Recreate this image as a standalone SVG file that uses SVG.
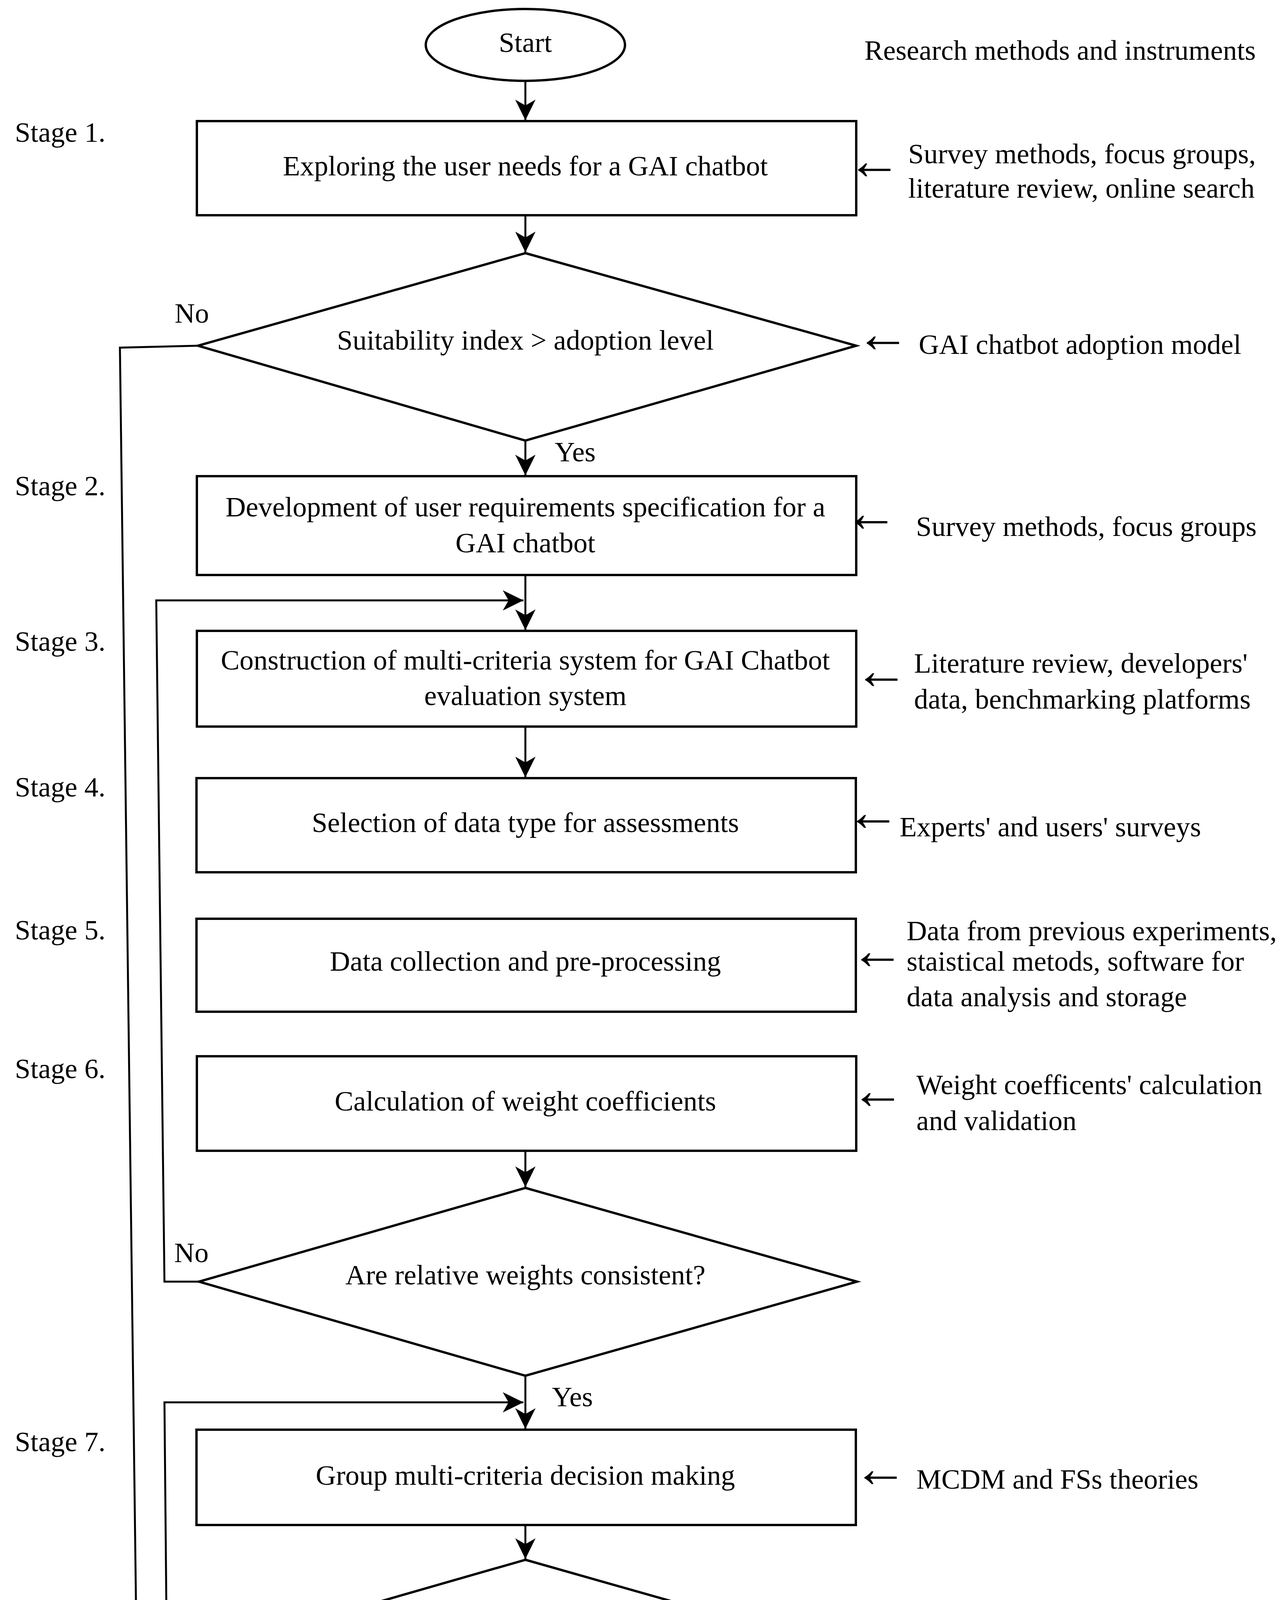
<svg xmlns="http://www.w3.org/2000/svg" width="3282" height="5189" viewBox="0 0 3282 5189">
<style>
text{font-family:"Liberation Serif","Times New Roman",serif;font-size:72px;fill:#000}
.c{text-anchor:middle}
.arr{font-size:140px}
.shape{fill:#fff;stroke:#000;stroke-width:6}
.ln{fill:none;stroke:#000;stroke-width:5}
</style>
<defs>
<marker id="ah" markerUnits="userSpaceOnUse" viewBox="-56 -28 58 56" refX="0" refY="0" markerWidth="58" markerHeight="56" orient="auto">
<path d="M0,0 L-53,-26 L-38,0 L-53,26 Z" fill="#000"/>
</marker>
</defs>
<rect width="3282" height="5189" fill="#fff"/>

<g id="connectors">
<line class="ln" x1="1345" y1="207" x2="1345" y2="308" marker-end="url(#ah)"/>
<line class="ln" x1="1345" y1="551" x2="1345" y2="646" marker-end="url(#ah)"/>
<line class="ln" x1="1345" y1="1128" x2="1345" y2="1217" marker-end="url(#ah)"/>
<line class="ln" x1="1345" y1="1472" x2="1345" y2="1613" marker-end="url(#ah)"/>
<line class="ln" x1="1345" y1="1860" x2="1345" y2="1990" marker-end="url(#ah)"/>
<line class="ln" x1="1345" y1="2946" x2="1345" y2="3039" marker-end="url(#ah)"/>
<line class="ln" x1="1345" y1="3522" x2="1345" y2="3658" marker-end="url(#ah)"/>
<line class="ln" x1="1345" y1="3904" x2="1345" y2="3991" marker-end="url(#ah)"/>
<line class="ln" x1="1345" y1="4474" x2="1345" y2="4570" marker-end="url(#ah)"/>
<line class="ln" x1="1345" y1="4814" x2="1345" y2="4975" marker-end="url(#ah)"/>
<polyline class="ln" points="507,885 307,890 358,4880 1340,4880" marker-end="url(#ah)"/>
<polyline class="ln" points="509,3281 421,3281 400,1537 1340,1537" marker-end="url(#ah)"/>
<polyline class="ln" points="505,4234 427,4234 421,3590 1340,3590" marker-end="url(#ah)"/>
<text x="447" y="826">No</text>
<text x="1420" y="1181">Yes</text>
<text x="446" y="3231">No</text>
<text x="1413" y="3600">Yes</text>
<text x="467" y="4161">No</text>
<text x="1406" y="4535">Yes</text>
</g>

<g id="start">
<ellipse class="shape" cx="1345" cy="115" rx="255" ry="92"/>
<text class="c" x="1345" y="133">Start</text>
</g>
<g id="box1">
<rect class="shape" x="504" y="310" width="1688" height="241"/>
<text class="c" x="1345" y="449">Exploring the user needs for a GAI chatbot</text>
</g>
<g id="dec1">
<polygon class="shape" points="1345,648 2192,885 1345,1128 507,885"/>
<text class="c" x="1345" y="895">Suitability index &gt; adoption level</text>
</g>
<g id="box2">
<rect class="shape" x="504" y="1219" width="1688" height="253"/>
<text class="c" x="1345" y="1322">Development of user requirements specification for a</text>
<text class="c" x="1345" y="1414">GAI chatbot</text>
</g>
<g id="box3">
<rect class="shape" x="504" y="1615" width="1688" height="245"/>
<text class="c" x="1345" y="1714">Construction of multi-criteria system for GAI Chatbot</text>
<text class="c" x="1345" y="1805">evaluation system</text>
</g>
<g id="box4">
<rect class="shape" x="503" y="1992" width="1688" height="241"/>
<text class="c" x="1345" y="2130">Selection of data type for assessments</text>
</g>
<g id="box5">
<rect class="shape" x="503" y="2352" width="1688" height="238"/>
<text class="c" x="1345" y="2485">Data collection and pre-processing</text>
</g>
<g id="box6">
<rect class="shape" x="504" y="2704" width="1688" height="242"/>
<text class="c" x="1345" y="2843">Calculation of weight coefficients</text>
</g>
<g id="dec2">
<polygon class="shape" points="1345,3041 2194,3281 1345,3522 509,3281"/>
<text class="c" x="1345" y="3288">Are relative weights consistent?</text>
</g>
<g id="box7">
<rect class="shape" x="503" y="3660" width="1688" height="244"/>
<text class="c" x="1345" y="3801">Group multi-criteria decision making</text>
</g>
<g id="dec3">
<polygon class="shape" points="1345,3993 2194,4234 1345,4474 505,4234"/>
<text class="c" x="1345" y="4240">Is the obtained ranking robust?</text>
</g>
<g id="box8">
<rect class="shape" x="503" y="4572" width="1688" height="242"/>
<text class="c" x="1345" y="4712">Analysis and interpretation of the results</text>
</g>
<g id="end">
<ellipse class="shape" cx="1345" cy="5068" rx="257" ry="91"/>
<text class="c" x="1345" y="5084">End</text>
</g>

<g id="stages">
<text x="38" y="363">Stage 1.</text>
<text x="38" y="1268">Stage 2.</text>
<text x="38" y="1666">Stage 3.</text>
<text x="38" y="2039">Stage 4.</text>
<text x="38" y="2405">Stage 5.</text>
<text x="38" y="2760">Stage 6.</text>
<text x="38" y="3715">Stage 7.</text>
<text x="38" y="4620">Stage 8.</text>
</g>

<g id="methods">
<text x="2213" y="153">Research methods and instruments</text>
<text class="arr" x="2168" y="458">←</text>
<text x="2325" y="418">Survey methods, focus groups,</text>
<text x="2325" y="506">literature review, online search</text>
<text class="arr" x="2190" y="901">←</text>
<text x="2352" y="906">GAI chatbot adoption model</text>
<text class="arr" x="2160" y="1360">←</text>
<text x="2345" y="1372">Survey methods, focus groups</text>
<text class="arr" x="2186" y="1763">←</text>
<text x="2340" y="1722">Literature review, developers'</text>
<text x="2340" y="1814">data, benchmarking platforms</text>
<text x="2165" y="2141"><tspan class="arr" dy="-15">←</tspan><tspan x="2303" dy="15">Experts' and users' surveys</tspan></text>
<text x="2321" y="2407">Data from previous experiments,</text>
<text class="arr" x="2176" y="2480">←</text>
<text x="2321" y="2485">staistical metods, software for</text>
<text x="2321" y="2576">data analysis and storage</text>
<text class="arr" x="2177" y="2838">←</text>
<text x="2346" y="2801">Weight coefficents' calculation</text>
<text x="2346" y="2893">and validation</text>
<text class="arr" x="2184" y="3806">←</text>
<text x="2346" y="3811">MCDM and FSs theories</text>
<text class="arr" x="2171" y="4707">←</text>
<text x="2346" y="4712">Statistical analysis</text>
</g>
</svg>
